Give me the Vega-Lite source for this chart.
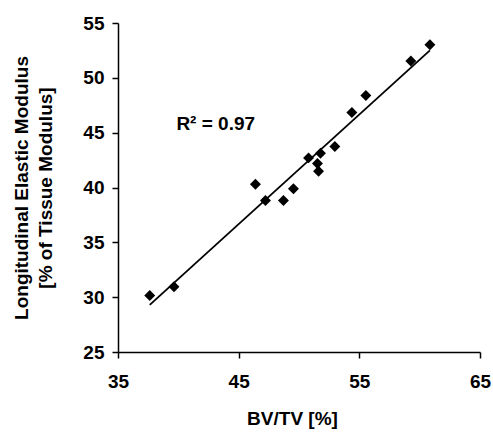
{
  "$schema": "https://vega.github.io/schema/vega-lite/v6.json",
  "autosize": "none",
  "width": 362,
  "height": 329,
  "padding": {"left": 118, "top": 23, "right": 13, "bottom": 81},
  "background": "white",
  "config": {
    "view": {"stroke": null},
    "font": "Liberation Sans",
    "axis": {
      "grid": false,
      "labelFlush": false,
      "domainColor": "black",
      "domainWidth": 1.5,
      "tickColor": "black",
      "tickWidth": 1.5,
      "tickSize": 6,
      "labelColor": "black",
      "labelFont": "Liberation Sans",
      "labelFontSize": 19,
      "labelFontWeight": "bold",
      "titleColor": "black",
      "titleFont": "Liberation Sans",
      "titleFontSize": 19,
      "titleFontWeight": "bold"
    }
  },
  "datasets": {
    "pts": [
      {"bvtv": 37.63, "modulus": 30.16},
      {"bvtv": 39.64, "modulus": 30.95},
      {"bvtv": 46.39, "modulus": 40.30},
      {"bvtv": 47.22, "modulus": 38.81},
      {"bvtv": 48.71, "modulus": 38.81},
      {"bvtv": 49.54, "modulus": 39.88},
      {"bvtv": 50.79, "modulus": 42.70},
      {"bvtv": 51.53, "modulus": 42.18},
      {"bvtv": 51.62, "modulus": 41.48},
      {"bvtv": 51.78, "modulus": 43.12},
      {"bvtv": 52.97, "modulus": 43.73},
      {"bvtv": 54.38, "modulus": 46.83},
      {"bvtv": 55.54, "modulus": 48.38},
      {"bvtv": 59.27, "modulus": 51.53},
      {"bvtv": 60.85, "modulus": 53.02}
    ],
    "fit": [
      {"bvtv": 37.63, "modulus": 29.3},
      {"bvtv": 60.85, "modulus": 52.5}
    ],
    "note": [
      {"bvtv": 39.84, "modulus": 45.8, "label": "R² = 0.97"}
    ]
  },
  "layer": [
    {
      "data": {"name": "fit"},
      "mark": {"type": "line", "color": "black", "strokeWidth": 1.8},
      "encoding": {
        "x": {"field": "bvtv", "type": "quantitative", "scale": {"domain": [35, 65], "nice": false, "zero": false},
              "axis": {"values": [35, 45, 55, 65], "title": "BV/TV [%]", "labelPadding": 14, "titlePadding": 18, "titleX": 174}},
        "y": {"field": "modulus", "type": "quantitative", "scale": {"domain": [25, 55], "nice": false, "zero": false},
              "axis": {"values": [25, 30, 35, 40, 45, 50, 55], "title": ["Longitudinal Elastic Modulus", "[% of Tissue Modulus]"], "titleLineHeight": 24, "labelPadding": 8, "titlePadding": 27}}
      }
    },
    {
      "data": {"name": "pts"},
      "mark": {"type": "point", "shape": "diamond", "filled": true, "color": "black", "size": 120, "opacity": 1},
      "encoding": {
        "x": {"field": "bvtv", "type": "quantitative"},
        "y": {"field": "modulus", "type": "quantitative"}
      }
    },
    {
      "data": {"name": "note"},
      "mark": {"type": "text", "align": "left", "baseline": "middle", "fontSize": 19, "fontWeight": "bold", "font": "Liberation Sans", "color": "black"},
      "encoding": {
        "x": {"field": "bvtv", "type": "quantitative"},
        "y": {"field": "modulus", "type": "quantitative"},
        "text": {"field": "label"}
      }
    }
  ]
}
